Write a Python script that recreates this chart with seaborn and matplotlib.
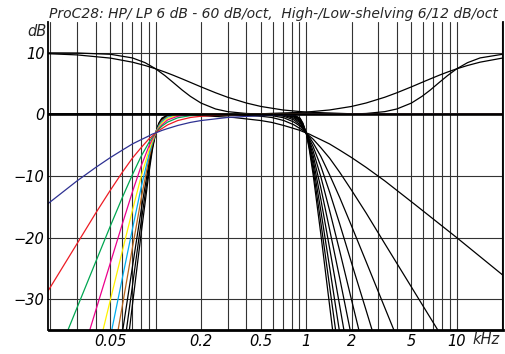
import numpy as np
import pandas as pd
import seaborn as sns
import matplotlib
matplotlib.use('Agg')
import matplotlib.pyplot as plt
from matplotlib.ticker import FixedLocator, LogLocator, NullFormatter

# high-pass, Butterworth, 6..60 dB/oct (frequencies in kHz)
freq_hp = [0.019, 0.03, 0.04, 0.05, 0.06, 0.07, 0.08, 0.09, 0.095, 0.1,
           0.105, 0.11, 0.12, 0.14, 0.17, 0.2, 0.3, 0.5, 1.0, 20.5]
hp_6 = [-14.6, -10.8, -8.6, -7.0, -5.8, -4.8, -4.1, -3.5, -3.2, -3.0,
        -2.8, -2.6, -2.3, -1.8, -1.3, -1.0, -0.5, -0.2, 0.0, 0.0]
hp_12 = [-28.9, -21.0, -16.0, -12.3, -9.4, -7.1, -5.4, -4.0, -3.5, -3.0,
         -2.6, -2.3, -1.7, -1.0, -0.5, -0.3, -0.05, 0.0, 0.0, 0.0]
hp_18 = [-43.3, -31.4, -23.9, -18.1, -13.5, -9.8, -6.8, -4.6, -3.7, -3.0,
         -2.4, -1.9, -1.25, -0.55, -0.2, -0.1, 0.0, 0.0, 0.0, 0.0]
hp_24 = [-57.7, -41.8, -31.8, -24.1, -17.8, -12.6, -8.4, -5.2, -4.0, -3.0,
         -2.25, -1.7, -0.9, -0.3, -0.05, 0.0, 0.0, 0.0, 0.0, 0.0]
hp_30 = [-72.1, -52.3, -39.8, -30.1, -22.2, -15.6, -10.1, -5.9, -4.3, -3.0,
         -2.1, -1.4, -0.65, -0.15, 0.0, 0.0, 0.0, 0.0, 0.0, 0.0]
hp_36 = [-86.5, -62.7, -47.8, -36.1, -26.6, -18.65, -11.9, -6.6, -4.55, -3.0,
         -1.9, -1.2, -0.45, -0.1, 0.0, 0.0, 0.0, 0.0, 0.0, 0.0]
hp_42 = [-101.0, -73.2, -55.7, -42.1, -31.1, -21.7, -13.75, -7.3, -4.85, -3.0,
         -1.8, -1.0, -0.35, -0.05, 0.0, 0.0, 0.0, 0.0, 0.0, 0.0]
hp_48 = [-115.4, -83.7, -63.7, -48.2, -35.5, -24.8, -15.6, -8.05, -5.15, -3.0,
         -1.65, -0.85, -0.25, 0.0, 0.0, 0.0, 0.0, 0.0, 0.0, 0.0]
hp_54 = [-129.8, -94.1, -71.6, -54.2, -39.9, -27.9, -17.5, -8.85, -5.45, -3.0,
         -1.5, -0.7, -0.15, 0.0, 0.0, 0.0, 0.0, 0.0, 0.0, 0.0]
hp_60 = [-144.3, -104.6, -79.6, -60.2, -44.4, -31.0, -19.4, -9.65, -5.8, -3.0,
         -1.4, -0.6, -0.1, 0.0, 0.0, 0.0, 0.0, 0.0, 0.0, 0.0]

# low-pass, Butterworth, 6..60 dB/oct
freq_lp = [0.019, 0.1, 0.2, 0.33, 0.5, 0.59, 0.71, 0.83, 0.91, 0.95, 1.0,
           1.05, 1.11, 1.25, 1.43, 1.67, 2.0, 2.5, 3.33, 5.26, 10.0, 20.5]
lp_6 = [0.0, 0.0, -0.2, -0.5, -1.0, -1.3, -1.8, -2.3, -2.6, -2.8, -3.0,
        -3.2, -3.5, -4.1, -4.8, -5.8, -7.0, -8.6, -10.8, -14.6, -20.0, -26.2]
lp_12 = [0.0, 0.0, 0.0, -0.05, -0.3, -0.5, -1.0, -1.7, -2.3, -2.6, -3.0,
         -3.5, -4.0, -5.4, -7.1, -9.4, -12.3, -16.0, -21.0, -28.9, -40.0, -52.5]
lp_18 = [0.0, 0.0, 0.0, 0.0, -0.1, -0.2, -0.55, -1.25, -1.9, -2.4, -3.0,
         -3.7, -4.6, -6.8, -9.8, -13.5, -18.1, -23.9, -31.4, -43.3, -60.0, -78.7]
lp_24 = [0.0, 0.0, 0.0, 0.0, 0.0, -0.05, -0.3, -0.9, -1.7, -2.25, -3.0,
         -4.0, -5.2, -8.4, -12.6, -17.8, -24.1, -31.8, -41.8, -57.7, -80.0, -105.0]
lp_30 = [0.0, 0.0, 0.0, 0.0, 0.0, 0.0, -0.15, -0.65, -1.4, -2.1, -3.0,
         -4.3, -5.9, -10.1, -15.6, -22.2, -30.1, -39.8, -52.3, -72.1, -100.0, -131.2]
lp_36 = [0.0, 0.0, 0.0, 0.0, 0.0, 0.0, -0.1, -0.45, -1.2, -1.9, -3.0,
         -4.55, -6.6, -11.9, -18.65, -26.6, -36.1, -47.8, -62.7, -86.5, -120.0, -157.4]
lp_42 = [0.0, 0.0, 0.0, 0.0, 0.0, 0.0, -0.05, -0.35, -1.0, -1.8, -3.0,
         -4.85, -7.3, -13.75, -21.7, -31.1, -42.1, -55.7, -73.2, -101.0, -140.0, -183.7]
lp_48 = [0.0, 0.0, 0.0, 0.0, 0.0, 0.0, 0.0, -0.25, -0.85, -1.65, -3.0,
         -5.15, -8.05, -15.6, -24.8, -35.5, -48.2, -63.7, -83.7, -115.4, -160.0, -210.0]
lp_54 = [0.0, 0.0, 0.0, 0.0, 0.0, 0.0, 0.0, -0.15, -0.7, -1.5, -3.0,
         -5.45, -8.85, -17.5, -27.9, -39.9, -54.2, -71.6, -94.1, -129.8, -180.0, -236.0]
lp_60 = [0.0, 0.0, 0.0, 0.0, 0.0, 0.0, 0.0, -0.1, -0.6, -1.4, -3.0,
         -5.8, -9.65, -19.4, -31.0, -44.4, -60.2, -79.6, -104.6, -144.3, -200.0, -262.0]

# low- and high-shelving, +10 dB, 6 and 12 dB/oct
freq_ls = [0.019, 0.03, 0.05, 0.07, 0.085, 0.1, 0.115, 0.13, 0.15, 0.17,
           0.2, 0.25, 0.3, 0.4, 0.5, 0.7, 1.0, 2.0, 5.0, 20.5]
ls_6 = [9.86, 9.66, 9.14, 8.48, 7.94, 7.40, 6.88, 6.38, 5.76, 5.20,
        4.47, 3.51, 2.79, 1.85, 1.29, 0.72, 0.37, 0.10, 0.02, 0.0]
ls_12 = [9.99, 9.97, 9.76, 9.17, 8.40, 7.40, 6.31, 5.23, 3.95, 2.93,
         1.84, 0.88, 0.45, 0.15, 0.06, 0.01, 0.0, 0.0, 0.0, 0.0]
freq_hs = [0.019, 0.2, 0.5, 1.0, 1.43, 2.0, 2.5, 3.33, 4.0, 5.0, 5.88,
           6.67, 7.69, 8.7, 10.0, 11.8, 14.3, 20.5]
hs_6 = [0.0, 0.02, 0.10, 0.37, 0.72, 1.29, 1.85, 2.79, 3.51, 4.47, 5.20,
        5.76, 6.38, 6.88, 7.40, 7.94, 8.48, 9.18]
hs_12 = [0.0, 0.0, 0.0, 0.0, 0.01, 0.06, 0.15, 0.45, 0.88, 1.84, 2.93,
         3.95, 5.23, 6.31, 7.40, 8.40, 9.17, 9.79]

xticks = [0.05, 0.2, 0.5, 1, 2, 5, 10]
xtick_labels = ['0.05', '0.2', '0.5', '1', '2', '5', '10']
yticks = [10, 0, -10, -20, -30]
ytick_labels = ['10', '0', '\u221210', '\u221220', '\u221230']
title = 'ProC28: HP/ LP 6 dB - 60 dB/oct,  High-/Low-shelving 6/12 dB/oct'

hp_colors = ['#2e3192', '#ed1c24', '#00a651', '#ec008c', '#fff200',
             '#00aeef', '#b8661c', 'black', 'black', 'black']

curves = []
for i, vals in enumerate([ls_6, ls_12]):
    curves.append((f'ls{i}', freq_ls, vals, 'black'))
for i, vals in enumerate([hs_6, hs_12]):
    curves.append((f'hs{i}', freq_hs, vals, 'black'))
lp_all = [lp_6, lp_12, lp_18, lp_24, lp_30, lp_36, lp_42, lp_48, lp_54, lp_60]
for i, vals in enumerate(lp_all):
    curves.append((f'lp{i}', freq_lp, vals, 'black'))
hp_all = [hp_6, hp_12, hp_18, hp_24, hp_30, hp_36, hp_42, hp_48, hp_54, hp_60]
for i, vals in reversed(list(enumerate(hp_all))):
    curves.append((f'hp{i}', freq_hp, vals, hp_colors[i]))

rows = []
for name, fr, vals, col in curves:
    for f, v in zip(fr, vals):
        rows.append({'freq': f, 'dB': v, 'curve': name})
df = pd.DataFrame(rows)
palette = {name: col for name, fr, vals, col in curves}

sns.set_style('white')
plt.rcParams['font.family'] = ['DejaVu Sans']

fig = plt.figure(figsize=(5.06, 3.54), dpi=100)
ax = fig.add_axes([48.5 / 506, 24 / 354, (503 - 48.5) / 506, 308 / 354])

sns.lineplot(data=df, x='freq', y='dB', hue='curve', palette=palette,
             hue_order=[c[0] for c in curves], estimator=None, sort=False,
             legend=False, linewidth=0.9, ax=ax)

ax.set_xscale('log')
ax.set_xlim(0.0194, 20.3)
ax.set_ylim(-35, 15)
ax.set_xlabel('')
ax.set_ylabel('')

ax.xaxis.set_major_locator(FixedLocator(xticks))
ax.set_xticklabels(xtick_labels)
ax.xaxis.set_minor_locator(LogLocator(base=10, subs=np.arange(1, 10), numticks=50))
ax.xaxis.set_minor_formatter(NullFormatter())
ax.set_yticks(yticks)
ax.set_yticklabels(ytick_labels)
ax.tick_params(which='both', length=0, pad=3, labelsize=10.5, colors='black')
for lab in ax.get_xticklabels() + ax.get_yticklabels():
    lab.set_fontstyle('italic')

ax.set_axisbelow(True)
ax.grid(which='both', axis='x', color='#333333', lw=0.8)
ax.grid(which='major', axis='y', color='#333333', lw=0.8)
ax.axhline(0, color='black', lw=1.8, zorder=3)

ax.spines['top'].set_visible(False)
for side in ['left', 'right']:
    ax.spines[side].set_linewidth(1.3)
    ax.spines[side].set_color('black')
ax.spines['bottom'].set_linewidth(2.0)
ax.spines['bottom'].set_color('black')

t = fig.text(273 / 506, 1 - 18 / 354, title, ha='center', va='baseline',
             fontsize=10, fontstyle='italic')
fig.canvas.draw()
w = t.get_window_extent().width
t.set_fontsize(10 * 450 / w)

fig.text(46.5 / 506, 1 - 31.5 / 354, 'dB', ha='right', va='center',
         fontsize=10.5, fontstyle='italic')
fig.text(472 / 506, 1 - 339.5 / 354, 'kHz', ha='left', va='center',
         fontsize=10.5, fontstyle='italic')

fig.savefig('out.png', dpi=100)
